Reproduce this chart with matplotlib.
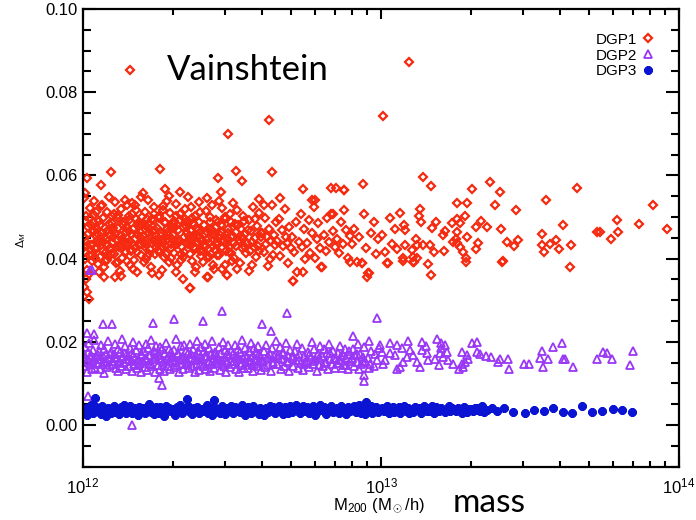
import matplotlib
matplotlib.use('Agg')
import matplotlib.pyplot as plt
from matplotlib.ticker import MultipleLocator, FormatStrFormatter

plt.rcParams['font.family'] = ['Liberation Sans', 'DejaVu Sans']
plt.rcParams['mathtext.fontset'] = 'custom'
plt.rcParams['mathtext.rm'] = 'Liberation Sans'
plt.rcParams['mathtext.it'] = 'Liberation Sans:italic'

# log10 of M200 [Msun/h] and Delta_M
dgp1_logm = [
    12.003, 12.006, 12.010, 12.013, 12.017, 12.020, 12.024, 12.028, 12.031, 12.035,
    12.038, 12.042, 12.046, 12.049, 12.002, 12.008, 12.015, 12.022, 12.027, 12.033,
    12.040, 12.044, 12.011, 12.026, 12.047, 12.004, 12.012, 12.021, 12.012, 12.008,
    12.052, 12.055, 12.058, 12.061, 12.064, 12.067, 12.070, 12.073, 12.076, 12.079, 12.082, 12.085,
    12.088, 12.091, 12.094, 12.097, 12.053, 12.060, 12.068, 12.075, 12.083, 12.090, 12.096, 12.099,
    12.102, 12.105, 12.108, 12.111, 12.114, 12.117, 12.120, 12.123, 12.126, 12.129, 12.132, 12.135,
    12.138, 12.141, 12.144, 12.147, 12.104, 12.112, 12.119, 12.127, 12.133, 12.140, 12.146, 12.149,
    12.151, 12.154, 12.157, 12.160, 12.163, 12.166, 12.169, 12.172, 12.175, 12.178, 12.181, 12.184,
    12.187, 12.190, 12.193, 12.196, 12.153, 12.159, 12.167, 12.174, 12.182, 12.188, 12.194, 12.199,
    12.201, 12.204, 12.207, 12.210, 12.213, 12.216, 12.219, 12.222, 12.225, 12.228, 12.231, 12.234,
    12.237, 12.240, 12.243, 12.246, 12.203, 12.211, 12.218, 12.226, 12.233, 12.239, 12.245, 12.249,
    12.252, 12.255, 12.258, 12.261, 12.264, 12.267, 12.270, 12.273, 12.276, 12.279, 12.282, 12.285,
    12.288, 12.291, 12.294, 12.297, 12.254, 12.262, 12.269, 12.277, 12.284, 12.290, 12.296,
    12.301, 12.304, 12.307, 12.310, 12.313, 12.316, 12.319, 12.322, 12.325, 12.328, 12.331, 12.334,
    12.337, 12.340, 12.343, 12.346, 12.303, 12.312, 12.320, 12.327, 12.335, 12.342, 12.348,
    12.352, 12.355, 12.358, 12.361, 12.364, 12.367, 12.370, 12.373, 12.376, 12.379, 12.382, 12.385,
    12.388, 12.391, 12.394, 12.397, 12.354, 12.362, 12.369, 12.377, 12.384, 12.392, 12.359,
    12.401, 12.404, 12.407, 12.410, 12.413, 12.416, 12.419, 12.422, 12.425, 12.428, 12.431,
    12.434, 12.437, 12.440, 12.443, 12.446, 12.405, 12.415, 12.423, 12.432, 12.441, 12.448,
    12.451, 12.454, 12.458, 12.461, 12.465, 12.468, 12.472, 12.475, 12.479, 12.482,
    12.486, 12.489, 12.493, 12.496, 12.499, 12.456, 12.463, 12.477, 12.484, 12.491,
    12.502, 12.506, 12.510, 12.514, 12.518, 12.522, 12.526, 12.530,
    12.534, 12.538, 12.542, 12.546, 12.504, 12.516, 12.528, 12.540,
    12.552, 12.556, 12.560, 12.564, 12.568, 12.572, 12.576, 12.580,
    12.584, 12.588, 12.592, 12.596, 12.558, 12.574, 12.590,
    12.602, 12.606, 12.611, 12.615, 12.620, 12.624, 12.629,
    12.633, 12.638, 12.642, 12.646, 12.608, 12.627, 12.644,
    12.652, 12.657, 12.662, 12.667, 12.672, 12.677,
    12.682, 12.687, 12.692, 12.697, 12.660, 12.684,
    12.703, 12.708, 12.714, 12.719, 12.725, 12.730, 12.736, 12.741, 12.746, 12.706,
    12.752, 12.757, 12.763, 12.768, 12.774, 12.779, 12.785, 12.790, 12.795, 12.770,
    12.802, 12.808, 12.814, 12.820, 12.826, 12.832, 12.838, 12.844, 12.849,
    12.853, 12.859, 12.865, 12.871, 12.877, 12.883, 12.889, 12.895, 12.876,
    12.903, 12.911, 12.919, 12.927, 12.935, 12.943, 12.951, 12.959, 12.967, 12.975, 12.983, 12.991,
    13.004, 13.012, 13.021, 13.029, 13.038, 13.046, 13.055, 13.063,
    12.059, 12.093, 12.258, 12.275, 12.454, 12.513, 12.535, 12.462, 12.633, 12.739, 12.831, 12.876, 12.779, 12.840, 12.941,
    12.107, 12.070, 12.415, 12.482, 12.706, 12.800, 12.739, 12.359,
    12.158, 12.488, 12.625, 13.008, 13.093,
    13.142, 13.167, 13.366, 13.306, 13.399, 13.657, 13.553, 13.914, 13.791, 13.866,
    13.959, 13.796, 13.771, 13.735, 13.724, 13.610, 13.638, 13.634, 13.541, 13.541,
    13.548, 13.587, 13.567, 13.598, 13.452, 13.383, 13.403, 13.357, 13.336, 13.319,
    13.422, 13.447, 13.461, 13.410, 13.327, 13.319, 13.288, 13.282, 13.285, 13.285,
    13.276, 13.265, 13.256, 13.288, 13.254, 13.265, 13.237, 13.215, 13.209, 13.254,
    13.252, 13.256, 13.243, 13.212, 13.185, 13.170, 13.179, 13.164, 13.159, 13.167,
    13.131, 13.129, 13.133, 13.117, 13.121, 13.142, 13.103, 13.108, 13.120, 13.077,
    13.081, 13.075, 13.081, 13.107, 12.896, 12.935, 12.957, 12.952, 13.025, 13.073, 13.111, 13.407,
    12.005, 12.016, 12.029, 12.037, 12.048, 12.057, 12.066, 12.078, 12.087, 12.098, 12.107, 12.116,
    12.125, 12.136, 12.145, 12.156, 12.164, 12.176, 12.185, 12.197, 12.206, 12.214, 12.223, 12.236,
    12.244, 12.256, 12.265, 12.274, 12.286, 12.295, 12.306, 12.315, 12.326, 12.338, 12.347, 12.357,
    12.366, 12.375, 12.387, 12.396, 12.408, 12.418, 12.427, 12.436, 12.447, 12.457, 12.467, 12.478,
    12.488, 12.497, 12.508, 12.520, 12.532, 12.544, 12.554, 12.566, 12.578, 12.589, 12.598, 12.618,
    12.007, 12.019, 12.032, 12.043, 12.056, 12.072, 12.086, 12.101, 12.118, 12.131, 12.148, 12.162,
    12.179, 12.192, 12.208, 12.221, 12.238, 12.251, 12.268, 12.281, 12.298, 12.311, 12.329, 12.344,
    12.356, 12.372, 12.389, 12.402, 12.417, 12.433, 12.449, 12.463, 12.481, 12.497, 12.512, 12.536,
]
dgp1_delta = [
    .0452, .0398, .0503, .0431, .0476, .0362, .0521, .0447, .0409, .0488,
    .0539, .0423, .0461, .0386, .0545, .0415, .0372, .0497, .0433, .0468,
    .0401, .0512, .0351, .0482, .0443, .0333, .0321, .0303, .0594, .0558,
    .0437, .0491, .0405, .0462, .0528, .0419, .0379, .0474, .0448, .0511, .0396, .0433,
    .0547, .0458, .0412, .0486, .0367, .0526, .0441, .0394, .0469, .0425, .0503, .0451,
    .0466, .0412, .0535, .0389, .0448, .0497, .0427, .0371, .0519, .0455, .0402, .0481,
    .0437, .0541, .0463, .0394, .0508, .0429, .0473, .0358, .0446, .0415, .0529, .0477,
    .0438, .0502, .0384, .0459, .0421, .0533, .0471, .0396, .0447, .0516, .0368, .0485,
    .0432, .0463, .0549, .0408, .0492, .0443, .0376, .0528, .0417, .0479, .0436, .0501,
    .0454, .0391, .0513, .0436, .0478, .0407, .0542, .0462, .0423, .0381, .0496, .0444,
    .0525, .0411, .0469, .0437, .0557, .0399, .0484, .0452, .0365, .0507, .0428, .0473,
    .0441, .0498, .0417, .0461, .0373, .0526, .0448, .0403, .0487, .0431, .0539, .0465,
    .0392, .0509, .0426, .0476, .0361, .0455, .0518, .0412, .0447, .0551, .0435,
    .0457, .0414, .0491, .0432, .0531, .0384, .0468, .0445, .0508, .0397, .0427, .0476,
    .0352, .0453, .0519, .0438, .0483, .0369, .0441, .0561, .0405, .0496, .0462,
    .0436, .0489, .0412, .0467, .0523, .0394, .0451, .0428, .0502, .0379, .0474, .0441,
    .0536, .0419, .0463, .0407, .0547, .0432, .0485, .0368, .0455, .0511, .0329,
    .0446, .0393, .0481, .0427, .0515, .0463, .0357, .0438, .0499, .0412, .0472,
    .0529, .0384, .0456, .0421, .0493, .0434, .0545, .0403, .0467, .0375, .0441,
    .0432, .0487, .0409, .0458, .0521, .0376, .0443, .0496, .0419, .0361,
    .0472, .0427, .0508, .0451, .0395, .0538, .0464, .0385, .0447, .0416,
    .0455, .0402, .0484, .0431, .0517, .0446, .0389, .0472,
    .0426, .0503, .0459, .0413, .0534, .0375, .0441, .0491,
    .0437, .0492, .0418, .0466, .0384, .0523, .0449, .0405,
    .0478, .0431, .0509, .0452, .0371, .0427, .0544,
    .0461, .0415, .0497, .0436, .0382, .0472, .0443,
    .0528, .0409, .0456, .0488, .0529, .0398, .0433,
    .0442, .0496, .0407, .0468, .0431, .0519,
    .0452, .0389, .0476, .0425, .0546, .0437,
    .0453, .0417, .0489, .0367, .0441, .0507, .0428, .0472, .0399, .0347,
    .0438, .0494, .0413, .0461, .0523, .0402, .0447, .0485, .0426, .0542,
    .0381, .0456, .0419, .0498, .0441, .0507, .0466, .0428, .0571,
    .0447, .0413, .0489, .0435, .0566, .0468, .0402, .0455, .0518,
    .0436, .0471, .0393, .0452, .0389, .0507, .0426, .0365, .0462, .0489, .0412, .0447,
    .0458, .0415, .0389, .0497, .0436, .0472, .0423, .0509,
    .0577, .0609, .0615, .0567, .0595, .0610, .0587, .0561, .0608, .0568, .0571, .0566, .0542, .0507, .0579,
    .0357, .0355, .0357, .0361, .0347, .0381, .0367, .0329,
    .0854, .0700, .0734, .0742, .0872,
    .0596, .0575, .0585, .0567, .0560, .0570, .0542, .0530, .0493, .0484,
    .0472, .0463, .0447, .0463, .0463, .0481, .0432, .0381, .0459, .0433,
    .0417, .0445, .0436, .0423, .0516, .0529, .0471, .0476, .0491, .0477,
    .0440, .0431, .0445, .0395, .0437, .0423, .0452, .0503, .0401, .0391,
    .0415, .0428, .0534, .0534, .0495, .0485, .0485, .0467, .0457, .0463,
    .0447, .0437, .0439, .0419, .0487, .0473, .0417, .0433, .0387, .0361,
    .0519, .0503, .0487, .0447, .0433, .0433, .0421, .0405, .0401, .0481,
    .0469, .0401, .0433, .0393, .0393, .0389, .0365, .0355, .0389, .0395, .0391, .0393,
    .0427, .0459, .0395, .0506, .0472, .0441, .0498, .0416, .0483, .0437, .0462, .0504,
    .0432, .0489, .0417, .0466, .0508, .0425, .0456, .0481, .0438, .0495, .0412, .0467,
    .0446, .0503, .0429, .0485, .0458, .0401, .0473, .0436, .0492, .0417, .0479, .0455,
    .0498, .0423, .0468, .0442, .0459, .0406, .0487, .0431, .0476, .0449, .0428, .0501,
    .0462, .0413, .0438, .0481, .0452, .0427, .0469, .0441, .0496, .0418, .0461, .0452,
    .0491, .0408, .0464, .0427, .0482, .0452, .0407, .0474, .0392, .0448, .0436, .0418,
    .0495, .0452, .0427, .0471, .0493, .0418, .0438, .0472, .0447, .0502, .0411, .0487,
    .0443, .0458, .0488, .0418, .0444, .0459, .0409, .0481, .0436, .0488, .0465, .0448,
]

dgp2_logm = [
    12.002, 12.005, 12.008, 12.011, 12.014, 12.017, 12.020, 12.023, 12.026, 12.029, 12.032, 12.035, 12.038, 12.041, 12.044, 12.047,
    12.051, 12.054, 12.057, 12.060, 12.063, 12.066, 12.069, 12.072, 12.075, 12.078, 12.081, 12.084, 12.087, 12.090, 12.093, 12.096,
    12.101, 12.104, 12.107, 12.110, 12.113, 12.116, 12.119, 12.122, 12.125, 12.128, 12.131, 12.134, 12.137, 12.140, 12.143, 12.146,
    12.151, 12.154, 12.157, 12.160, 12.163, 12.166, 12.169, 12.172, 12.175, 12.178, 12.181, 12.184, 12.187, 12.190, 12.193, 12.196,
    12.201, 12.204, 12.207, 12.210, 12.213, 12.216, 12.219, 12.222, 12.225, 12.228, 12.231, 12.234, 12.237, 12.240, 12.243, 12.246,
    12.251, 12.254, 12.257, 12.260, 12.263, 12.266, 12.269, 12.272, 12.275, 12.278, 12.281, 12.284, 12.287, 12.290, 12.293, 12.296,
    12.301, 12.304, 12.307, 12.310, 12.313, 12.316, 12.319, 12.322, 12.325, 12.328, 12.331, 12.334, 12.337, 12.340, 12.343, 12.346,
    12.351, 12.354, 12.357, 12.360, 12.363, 12.366, 12.369, 12.372, 12.375, 12.378, 12.381, 12.384, 12.387, 12.390, 12.393, 12.396,
    12.401, 12.404, 12.407, 12.410, 12.413, 12.416, 12.419, 12.422, 12.425, 12.428, 12.431, 12.434, 12.437, 12.440, 12.443, 12.446,
    12.451, 12.454, 12.457, 12.460, 12.463, 12.466, 12.469, 12.472, 12.475, 12.478, 12.481, 12.484, 12.487, 12.490, 12.493, 12.496,
    12.501, 12.504, 12.507, 12.510, 12.513, 12.516, 12.519, 12.522, 12.525, 12.528, 12.531, 12.534, 12.537, 12.540, 12.543, 12.546,
    12.551, 12.554, 12.557, 12.560, 12.563, 12.566, 12.569, 12.572, 12.575, 12.578, 12.581, 12.584, 12.587, 12.590, 12.593, 12.596,
    12.602, 12.606, 12.610, 12.614, 12.618, 12.622, 12.626, 12.630, 12.634, 12.638, 12.642, 12.646,
    12.652, 12.656, 12.660, 12.664, 12.668, 12.672, 12.676, 12.680, 12.684, 12.688, 12.692, 12.696,
    12.702, 12.706, 12.710, 12.714, 12.718, 12.722, 12.726, 12.730, 12.734, 12.738, 12.742, 12.746,
    12.752, 12.756, 12.760, 12.764, 12.768, 12.772, 12.776, 12.780, 12.784, 12.788, 12.792, 12.796,
    12.802, 12.806, 12.810, 12.814, 12.818, 12.822, 12.826, 12.830, 12.834, 12.838, 12.842, 12.846,
    12.852, 12.856, 12.860, 12.864, 12.868, 12.872, 12.876, 12.880, 12.884, 12.888, 12.892, 12.896,
    12.902, 12.906, 12.910, 12.914, 12.918, 12.922, 12.926, 12.930, 12.934, 12.938, 12.942, 12.946,
    12.955, 12.962, 12.968, 12.975, 12.981, 12.988, 12.994,
    12.465, 12.683, 12.985, 12.306, 12.068, 12.096, 12.234, 12.402, 12.600, 12.631, 12.907, 12.012, 12.037,
    12.256, 12.264, 12.943, 12.943, 12.165, 12.017, 12.023, 12.031,
    13.030, 13.055, 13.092, 13.137, 13.189, 13.200, 13.304, 13.323, 13.606, 13.578,
    13.539, 13.534, 13.562, 13.545, 13.612, 13.618, 13.645, 13.480, 13.498, 13.430,
    13.425, 13.400, 13.394, 13.368, 13.352, 13.332, 13.321, 13.271, 13.290, 13.293,
    13.282, 13.271, 13.263, 13.276, 13.243, 13.193, 13.226, 13.209, 13.220, 13.203,
    13.215, 13.198, 13.159, 13.153, 13.137, 13.131, 13.120, 13.108, 13.097, 13.086,
    13.075, 13.064, 13.053, 13.047, 13.030, 13.013, 13.008, 13.002, 12.997, 13.847,
    13.836, 13.774, 13.757, 13.744, 13.724, 12.961, 12.960, 13.070, 13.150, 13.180,
    12.004, 12.019, 12.033, 12.049, 12.062, 12.079, 12.092, 12.108, 12.124, 12.139, 12.155, 12.168,
    12.183, 12.198, 12.212, 12.229, 12.242, 12.258, 12.273, 12.289, 12.302, 12.318, 12.333, 12.349,
    12.362, 12.378, 12.392, 12.408, 12.423, 12.439, 12.452, 12.468, 12.483, 12.498, 12.513, 12.529,
    12.544, 12.558, 12.573, 12.589, 12.604, 12.621, 12.637, 12.653, 12.671, 12.687, 12.706, 12.724,
    12.741, 12.758, 12.776, 12.793, 12.811, 12.829, 12.848, 12.866, 12.884, 12.903, 12.921, 12.939,
]
dgp2_delta = [
    .0163, .0141, .0187, .0152, .0128, .0175, .0198, .0146, .0169, .0134, .0181, .0157, .0204, .0138, .0166, .0149,
    .0158, .0179, .0136, .0193, .0147, .0165, .0126, .0184, .0152, .0171, .0139, .0201, .0161, .0144, .0176, .0155,
    .0148, .0172, .0195, .0137, .0161, .0183, .0129, .0154, .0176, .0143, .0207, .0166, .0151, .0189, .0135, .0159,
    .0167, .0142, .0186, .0153, .0131, .0174, .0199, .0146, .0162, .0181, .0138, .0156, .0192, .0149, .0171, .0127,
    .0154, .0178, .0139, .0196, .0162, .0133, .0185, .0147, .0169, .0205, .0141, .0158, .0177, .0128, .0164, .0191,
    .0145, .0168, .0188, .0136, .0157, .0182, .0151, .0129, .0173, .0198, .0161, .0143, .0184, .0155, .0134, .0175,
    .0163, .0139, .0181, .0152, .0206, .0144, .0171, .0127, .0159, .0189, .0148, .0166, .0135, .0193, .0156, .0178,
    .0151, .0174, .0137, .0195, .0162, .0141, .0183, .0156, .0128, .0169, .0201, .0146, .0177, .0133, .0164, .0187,
    .0158, .0142, .0179, .0196, .0135, .0167, .0153, .0185, .0129, .0172, .0148, .0203, .0161, .0138, .0176, .0155,
    .0166, .0149, .0188, .0132, .0174, .0157, .0199, .0143, .0163, .0181, .0127, .0152, .0192, .0168, .0139, .0177,
    .0147, .0171, .0154, .0193, .0136, .0165, .0182, .0128, .0159, .0176, .0144, .0204, .0162, .0138, .0185, .0151,
    .0163, .0137, .0178, .0152, .0197, .0145, .0169, .0131, .0186, .0158, .0174, .0141, .0191, .0155, .0167, .0133,
    .0156, .0178, .0139, .0193, .0162, .0144, .0171, .0131, .0185, .0151, .0166, .0201,
    .0148, .0169, .0187, .0135, .0159, .0176, .0142, .0198, .0154, .0165, .0129, .0181,
    .0161, .0143, .0179, .0156, .0194, .0137, .0172, .0149, .0186, .0133, .0167, .0152,
    .0153, .0176, .0139, .0164, .0199, .0146, .0183, .0158, .0131, .0171, .0145, .0189,
    .0166, .0141, .0184, .0152, .0173, .0135, .0196, .0159, .0147, .0178, .0162, .0138,
    .0149, .0174, .0157, .0191, .0138, .0168, .0145, .0182, .0161, .0134, .0177, .0153,
    .0158, .0183, .0141, .0169, .0152, .0194, .0136, .0171, .0147, .0164, .0187, .0155,
    .0162, .0148, .0179, .0141, .0171, .0156, .0185,
    .0274, .0270, .0257, .0254, .0243, .0243, .0245, .0249, .0242, .0225, .0213, .0222, .0218,
    .0112, .0096, .0120, .0107, .0000, .0070, .0373, .0373,
    .0197, .0193, .0202, .0200, .0206, .0197, .0198, .0199, .0198, .0187,
    .0179, .0161, .0159, .0139, .0160, .0158, .0140, .0147, .0147, .0136,
    .0160, .0160, .0152, .0164, .0167, .0172, .0176, .0176, .0168, .0160,
    .0152, .0147, .0136, .0140, .0148, .0144, .0156, .0164, .0176, .0185,
    .0193, .0173, .0156, .0173, .0180, .0140, .0152, .0168, .0180, .0164,
    .0152, .0140, .0136, .0168, .0173, .0156, .0148, .0176, .0193, .0178,
    .0144, .0160, .0173, .0176, .0159, .0202, .0137, .0185, .0190, .0159,
    .0172, .0155, .0147, .0168, .0159, .0151, .0171, .0163, .0149, .0174, .0158, .0166,
    .0145, .0169, .0157, .0148, .0173, .0162, .0141, .0166, .0154, .0174, .0161, .0146,
    .0171, .0156, .0148, .0165, .0152, .0169, .0158, .0146, .0172, .0154, .0163, .0149,
    .0168, .0157, .0146, .0171, .0153, .0166, .0148, .0162, .0171, .0151, .0165, .0156,
    .0147, .0169, .0155, .0162, .0149, .0173, .0158, .0166, .0145, .0161, .0172, .0152,
]

dgp3_logm = [
    12.003, 12.009, 12.015, 12.021, 12.027, 12.033, 12.039, 12.045,
    12.053, 12.059, 12.065, 12.071, 12.077, 12.083, 12.089, 12.095,
    12.103, 12.109, 12.115, 12.121, 12.127, 12.133, 12.139, 12.145,
    12.153, 12.159, 12.165, 12.171, 12.177, 12.183, 12.189, 12.195,
    12.203, 12.209, 12.215, 12.221, 12.227, 12.233, 12.239, 12.245,
    12.253, 12.259, 12.265, 12.271, 12.277, 12.283, 12.289, 12.295,
    12.303, 12.309, 12.315, 12.321, 12.327, 12.333, 12.339, 12.345,
    12.353, 12.359, 12.365, 12.371, 12.377, 12.383, 12.389, 12.395,
    12.403, 12.409, 12.415, 12.421, 12.427, 12.433, 12.439, 12.445,
    12.453, 12.459, 12.465, 12.471, 12.477, 12.483, 12.489, 12.495,
    12.503, 12.509, 12.515, 12.521, 12.527, 12.533, 12.539, 12.545,
    12.553, 12.559, 12.565, 12.571, 12.577, 12.583, 12.589, 12.595,
    12.603, 12.609, 12.615, 12.621, 12.627, 12.633, 12.639, 12.645,
    12.653, 12.659, 12.665, 12.671, 12.677, 12.683, 12.689, 12.695,
    12.703, 12.709, 12.715, 12.721, 12.727, 12.733, 12.739, 12.745,
    12.753, 12.759, 12.765, 12.771, 12.777, 12.783, 12.789, 12.795,
    12.803, 12.809, 12.815, 12.821, 12.827, 12.833, 12.839, 12.845,
    12.853, 12.859, 12.865, 12.871, 12.877, 12.883, 12.889, 12.895,
    12.903, 12.909, 12.915, 12.921, 12.927, 12.933, 12.939, 12.945,
    12.953, 12.959, 12.965, 12.971, 12.977, 12.983, 12.989, 12.995,
    13.003, 13.009, 13.015, 13.021, 13.027, 13.033, 13.039, 13.045,
    13.053, 13.059, 13.065, 13.071, 13.077, 13.083, 13.089, 13.095,
    13.103, 13.109, 13.115, 13.121, 13.127, 13.133, 13.139, 13.145,
    13.153, 13.159, 13.165, 13.171, 13.177, 13.183, 13.189, 13.195,
    13.203, 13.209, 13.215, 13.221, 13.227, 13.233, 13.239, 13.245,
    13.253, 13.259, 13.265, 13.271, 13.277, 13.283, 13.289, 13.295,
    13.303, 13.309, 13.315, 13.321, 13.327, 13.333, 13.339, 13.345,
    13.355, 13.372, 13.390, 13.413, 13.444, 13.483, 13.513, 13.547, 13.578, 13.612,
    13.640, 13.674, 13.707, 13.740, 13.780, 13.808, 13.841, 12.040, 12.348, 12.440,
    12.950,
]
dgp3_delta = [
    .0031, .0042, .0025, .0037, .0048, .0029, .0035, .0044,
    .0039, .0027, .0046, .0033, .0022, .0041, .0036, .0030,
    .0045, .0032, .0038, .0026, .0043, .0035, .0049, .0028,
    .0034, .0047, .0029, .0040, .0033, .0024, .0044, .0037,
    .0041, .0028, .0036, .0050, .0031, .0039, .0026, .0043,
    .0030, .0044, .0037, .0023, .0046, .0033, .0040, .0035,
    .0038, .0025, .0043, .0034, .0048, .0029, .0036, .0041,
    .0046, .0032, .0027, .0040, .0035, .0044, .0030, .0038,
    .0033, .0041, .0049, .0028, .0037, .0024, .0043, .0035,
    .0039, .0030, .0045, .0036, .0026, .0042, .0034, .0047,
    .0028, .0043, .0035, .0040, .0031, .0048, .0037, .0025,
    .0044, .0036, .0029, .0046, .0033, .0039, .0027, .0041,
    .0035, .0025, .0042, .0031, .0047, .0038, .0044, .0030,
    .0040, .0047, .0033, .0026, .0043, .0036, .0029, .0045,
    .0031, .0038, .0049, .0035, .0028, .0041, .0046, .0034,
    .0043, .0030, .0037, .0045, .0024, .0039, .0033, .0048,
    .0036, .0044, .0027, .0040, .0034, .0046, .0031, .0038,
    .0042, .0029, .0047, .0035, .0039, .0026, .0044, .0033,
    .0037, .0045, .0032, .0041, .0049, .0030, .0038, .0027,
    .0034, .0040, .0046, .0028, .0036, .0043, .0031, .0039,
    .0041, .0033, .0038, .0047, .0029, .0035, .0044, .0032,
    .0036, .0043, .0030, .0039, .0045, .0034, .0040, .0028,
    .0039, .0031, .0044, .0036, .0042, .0029, .0037, .0046,
    .0033, .0040, .0035, .0047, .0030, .0043, .0038, .0034,
    .0042, .0036, .0031, .0039, .0045, .0033, .0040, .0037,
    .0035, .0041, .0038, .0030, .0044, .0036, .0032, .0039,
    .0038, .0033, .0042, .0036, .0040, .0034, .0045, .0031,
    .0036, .0040, .0033, .0042, .0032, .0030, .0036, .0034, .0040, .0032,
    .0030, .0046, .0032, .0034, .0038, .0036, .0032, .0064, .0062, .0060,
    .0055,
]

fig = plt.figure(figsize=(6.96, 5.20), dpi=100)
ax = fig.add_axes([83 / 696, 1 - 466.7 / 520, 596 / 696, 457.7 / 520])

ax.plot([10 ** m for m in dgp1_logm], dgp1_delta, ls='none', marker='D', ms=4.2,
        mfc='none', mec='#f52a10', mew=1.6, label='DGP1')
ax.plot([10 ** m for m in dgp2_logm], dgp2_delta, ls='none', marker='^', ms=6.2,
        mfc='none', mec='#9a36f5', mew=1.3, label='DGP2')
ax.plot([10 ** m for m in dgp3_logm], dgp3_delta, ls='none', marker=(8, 2, 0), ms=6,
        mfc='#0a14d2', mec='#0a14d2', mew=2.2, label='DGP3')

ax.set_xscale('log')
ax.set_xlim(1e12, 1e14)
ax.set_ylim(-0.01, 0.10)
ax.yaxis.set_major_locator(MultipleLocator(0.02))
ax.yaxis.set_minor_locator(MultipleLocator(0.005))
ax.yaxis.set_major_formatter(FormatStrFormatter('%.2f'))

ax.tick_params(which='both', direction='in', top=True, right=True, width=1.5,
               labelsize=12, color='black')
ax.tick_params(axis='y', which='major', length=9.5, pad=4)
ax.tick_params(axis='y', which='minor', length=5.5)
ax.tick_params(axis='x', which='major', length=7.5, pad=7)
ax.tick_params(axis='x', which='minor', length=4)
for s in ax.spines.values():
    s.set_linewidth(1.6)

ax.legend(loc='upper right', bbox_to_anchor=(0.958, 0.948), markerfirst=False,
          frameon=False, fontsize=11, handlelength=0.8, handletextpad=0.3,
          labelspacing=0.12, borderpad=0, borderaxespad=0)

fig.text(248 / 696, 1 - 70 / 520, 'Vainshtein', family='Lato', fontsize=25,
         ha='center', va='center')
fig.text(379 / 696, 1 - 506 / 520, r'M$_{200}$ (M$_\odot$/h)', fontsize=12,
         ha='center', va='center')
fig.text(489 / 696, 1 - 503 / 520, 'mass', family='Lato', fontsize=24,
         ha='center', va='center')
fig.text(21 / 696, 1 - 240 / 520, r'$\Delta_M$', fontsize=8, rotation=90,
         ha='center', va='center')

fig.savefig('out.png', dpi=100)
